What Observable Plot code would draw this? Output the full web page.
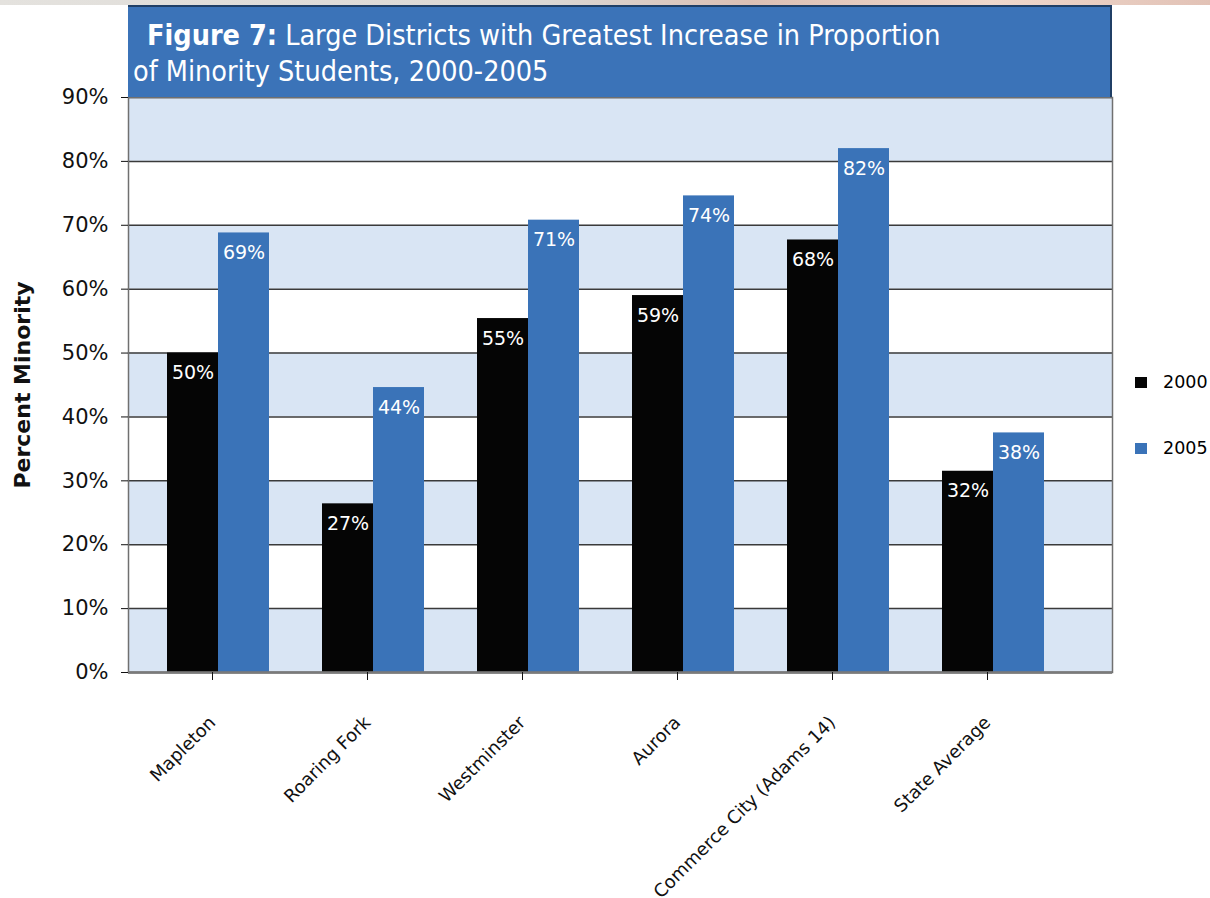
<!DOCTYPE html>
<html>
<head>
<meta charset="utf-8">
<script src="https://cdn.jsdelivr.net/npm/d3@7"></script>
<script src="https://cdn.jsdelivr.net/npm/@observablehq/plot@0.6"></script>
<style>
  html, body { margin: 0; padding: 0; background: #fff; }
  #wrap { position: relative; width: 1210px; height: 898px; overflow: hidden; font-family: "DejaVu Sans", Verdana, sans-serif; }
  #strip { position: absolute; left: 0; top: 0; width: 1210px; height: 5px;
    background: linear-gradient(to right, #e4e2de 0%, #dcd8d4 45%, #dcc0b4 62%, #efd8cc 82%, #e2c2b6 100%); }
  #titlebox { position: absolute; left: 128px; top: 5px; width: 982px; height: 90px;
    background: #3b73b8; border-top: 2px solid #203f66; border-right: 2px solid #203f66; color: #fff;
    font-family: "DejaVu Sans Condensed", "DejaVu Sans", sans-serif; }
  #t1 { position: absolute; left: 19px; top: 13px; font-size: 28.5px; line-height: 32px; white-space: nowrap; }
  #t2 { position: absolute; left: 5px; top: 49px; font-size: 28.5px; line-height: 32px; white-space: nowrap; }
  .sw { position: absolute; width: 12px; height: 11px; }
  .lt { position: absolute; white-space: nowrap; }
  #chart { position: absolute; left: 0; top: 0; }
</style>
</head>
<body>
<div id="wrap">
  <div id="chart"></div>
  <div id="strip"></div>
  <div id="titlebox">
    <div id="t1"><b>Figure 7:</b> Large Districts with Greatest Increase in Proportion</div>
    <div id="t2">of Minority Students, 2000-2005</div>
  </div>
  <div id="legend"></div>
</div>
<script>
const categories = ["Mapleton", "Roaring Fork", "Westminster", "Aurora", "Commerce City (Adams 14)", "State Average"];
const values2000 = [50.0, 26.4, 55.4, 59.0, 67.7, 31.5];
const values2005 = [68.8, 44.6, 70.8, 74.6, 82.0, 37.5];
const labels2000 = ["50%", "27%", "55%", "59%", "68%", "32%"];
const labels2005 = ["69%", "44%", "71%", "74%", "82%", "38%"];
const seriesNames = ["2000", "2005"];
const seriesColors = ["#050505", "#3a73b8"];
const yTicks = [0, 10, 20, 30, 40, 50, 60, 70, 80, 90];
const bandStarts = [0, 20, 40, 60, 80];

const d2000 = categories.map((c, i) => ({cat: c, v: values2000[i], label: labels2000[i]}));
const d2005 = categories.map((c, i) => ({cat: c, v: values2005[i], label: labels2005[i]}));
const bands = bandStarts.map(s => ({y1: s, y2: s + 10}));

const chart = Plot.plot({
  width: 1210,
  height: 898,
  marginLeft: 128,
  marginRight: 98,
  marginTop: 97,
  marginBottom: 226,
  style: {fontFamily: "'DejaVu Sans', Verdana, sans-serif", background: "transparent"},
  x: {type: "band", domain: categories, range: [166.8, 1043.8], paddingInner: 0.342, paddingOuter: 0, label: null},
  y: {domain: [0, 90], label: null},
  marks: [
    Plot.rect(bands, {y1: "y1", y2: "y2", fill: "#d9e5f4"}),
    Plot.ruleY(yTicks, {stroke: "#3a3a3a", strokeWidth: 1.5}),
    Plot.barY(d2000, {x: "cat", y: "v", fill: seriesColors[0], insetRight: 51}),
    Plot.barY(d2005, {x: "cat", y: "v", fill: seriesColors[1], insetLeft: 51}),
    Plot.text(d2000, {x: "cat", y: "v", text: "label", dx: -25.5, dy: 20, fill: "#fff", fontSize: 19}),
    Plot.text(d2005, {x: "cat", y: "v", text: "label", dx: 25.5, dy: 20, fill: "#fff", fontSize: 19}),
    Plot.frame({stroke: "#707070", strokeWidth: 1.5}),
    Plot.ruleY([0], {stroke: "#7a7a7a", strokeWidth: 2.5}),
    Plot.axisY({ticks: yTicks, tickFormat: d => d + "%", tickSize: 7, tickPadding: 13, fontSize: 21, color: "#111", label: null}),
    Plot.axisX({tickSize: 8, tickRotate: -45, tickPadding: 39, dx: -6, fontSize: 18, color: "#111", label: null}),
    Plot.text(["Percent Minority"], {frameAnchor: "left", textAnchor: "middle", dx: -106, rotate: -90, fontSize: 22, fontWeight: "bold", fill: "#111", text: d => d})
  ]
});
document.getElementById("chart").appendChild(chart);

const legend = document.getElementById("legend");
const legTops = [377, 443];
seriesNames.forEach((n, i) => {
  const sw = document.createElement("div");
  sw.className = "sw";
  sw.style.left = "1135px";
  sw.style.top = legTops[i] + "px";
  sw.style.background = seriesColors[i];
  legend.appendChild(sw);
  const t = document.createElement("div");
  t.className = "lt";
  t.style.left = "1163px";
  t.style.top = (legTops[i] - 5) + "px";
  t.style.fontSize = "17.5px";
  t.textContent = n;
  legend.appendChild(t);
});
</script>
</body>
</html>
